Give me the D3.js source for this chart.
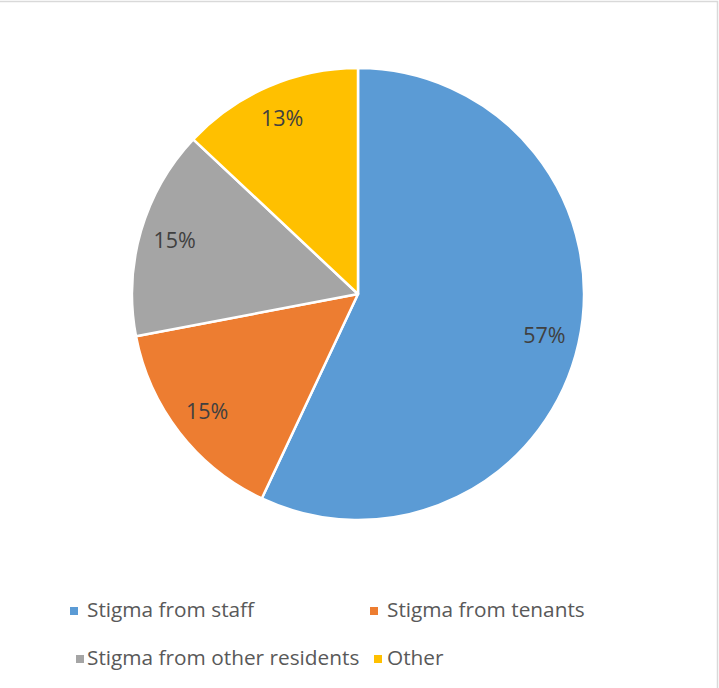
<!DOCTYPE html>
<html>
<head>
<meta charset="utf-8">
<script src="https://cdn.jsdelivr.net/npm/d3@7"></script>
<style>
  html, body { margin: 0; padding: 0; background: #fff; }
  svg { display: block; font-family: "Open Sans", "Liberation Sans", sans-serif; }
</style>
</head>
<body>
<svg id="chart" width="719" height="688"></svg>
<script>
// Sources of stigma, share of responses (%)
const categories = ["Stigma from staff", "Stigma from tenants", "Stigma from other residents", "Other"];
const values = [57, 15, 15, 13];
const colors = ["#5B9BD5", "#ED7D31", "#A5A5A5", "#FFC000"];

const width = 719, height = 688;
const cx = 358, cy = 294, radius = 226;

const svg = d3.select("#chart");

// chart frame
svg.append("rect")
  .attr("x", -2).attr("y", 1.5)
  .attr("width", width + 0.5).attr("height", height + 4)
  .attr("fill", "#fff")
  .attr("stroke", "#d9d9d9")
  .attr("stroke-width", 1.5);

const pie = d3.pie().sort(null).value(d => d.value);
const data = pie(categories.map((c, i) => ({ name: c, value: values[i], color: colors[i] })));

const arc = d3.arc().innerRadius(0).outerRadius(radius);
const labelArc = d3.arc().innerRadius(radius * 0.845).outerRadius(radius * 0.845);

const g = svg.append("g").attr("transform", `translate(${cx},${cy})`);

g.selectAll("path.slice")
  .data(data)
  .join("path")
  .attr("class", "slice")
  .attr("d", arc)
  .attr("fill", d => d.data.color)
  .attr("stroke", "#fff")
  .attr("stroke-width", 2.5)
  .attr("stroke-linejoin", "round");

g.selectAll("text.pct")
  .data(data)
  .join("text")
  .attr("class", "pct")
  .attr("transform", d => `translate(${labelArc.centroid(d)})`)
  .attr("text-anchor", "middle")
  .attr("dy", "0.36em")
  .attr("font-size", 21.5)
  .attr("fill", "#404040")
  .text(d => d.data.value + "%");

// legend: two rows of two entries
const legendPos = [
  { sx: 70, tx: 87, y: 610 },
  { sx: 370, tx: 387, y: 610 },
  { sx: 76, tx: 87, y: 658 },
  { sx: 374, tx: 387, y: 658 }
];

const leg = svg.append("g").selectAll("g")
  .data(data)
  .join("g");

leg.append("rect")
  .attr("x", (d, i) => legendPos[i].sx)
  .attr("y", (d, i) => legendPos[i].y - 3)
  .attr("width", 8).attr("height", 8)
  .attr("fill", d => d.data.color);

leg.append("text")
  .attr("x", (d, i) => legendPos[i].tx)
  .attr("y", (d, i) => legendPos[i].y)
  .attr("dy", "0.36em")
  .attr("font-size", 20.8)
  .attr("fill", "#595959")
  .text(d => d.data.name);
</script>
</body>
</html>
